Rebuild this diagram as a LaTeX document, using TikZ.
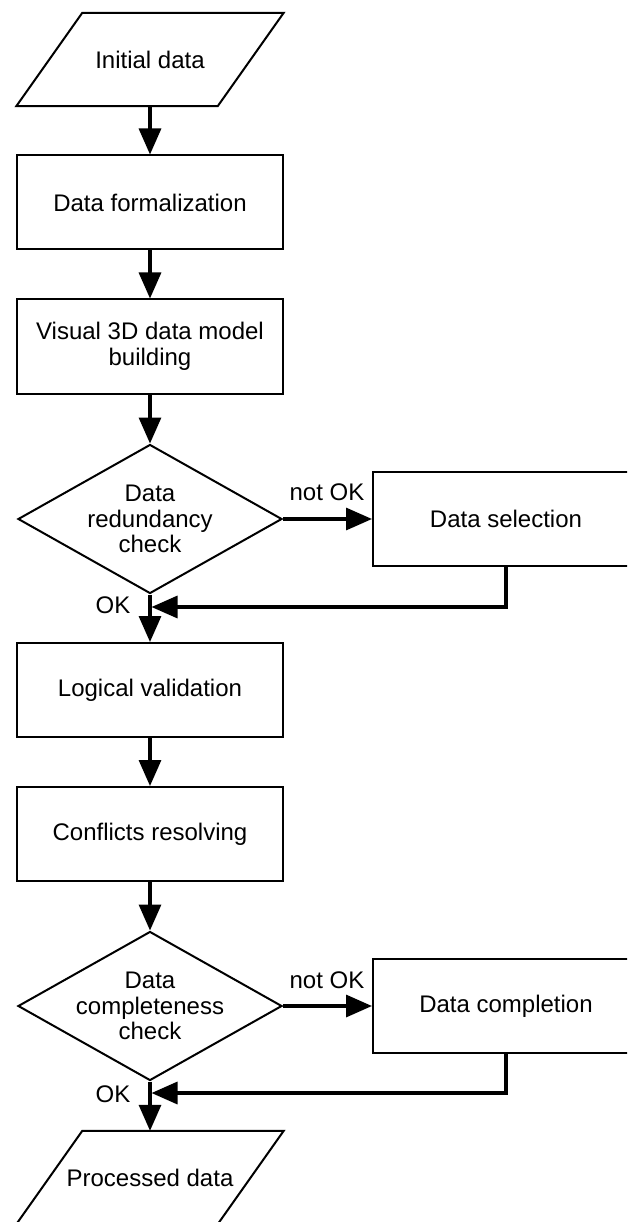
\documentclass[tikz,border=0pt]{standalone}
\usepackage{fontspec}
\setmainfont{Liberation Sans}
\usetikzlibrary{shapes.geometric,arrows.meta}
\newcommand{\chartfont}{\fontsize{24}{25.5}\selectfont}

\begin{document}
\begin{tikzpicture}[x=1pt, y=-1pt,
		box/.style={draw, line width=2pt, rectangle, minimum width=266pt, minimum height=94pt, inner sep=0pt, align=center, font=\chartfont},
		decision/.style={draw, line width=2pt, diamond, aspect=1.77, minimum width=264pt, minimum height=149pt, inner sep=-5pt, align=center, font=\chartfont},
		io/.style={rectangle, minimum width=201pt, minimum height=93pt, inner sep=0pt, font=\chartfont},
		slanted/.style={line width=2pt, line join=miter},
		flow/.style={line width=3.3pt, -{Triangle[length=26pt, width=22pt]}},
		lbl/.style={inner sep=0pt, font=\chartfont}]
		\useasboundingbox (0,0) rectangle (627,1222);
		\clip (0,0) rectangle (627,1222);

		\node[io] (init) at (150, 59.5) {Initial data};
		\node[box] (form) at (150, 202.5) {Data formalization};
		\node[box] (vis) at (150, 346.5) {Visual 3D data model\\building};
		\node[decision] (red) at (150, 519) {Data\\redundancy\\check};
		\node[box] (sel) at (506, 519) {Data selection};
		\node[box] (logic) at (150, 690) {Logical validation};
		\node[box] (confl) at (150, 834) {Conflicts resolving};
		\node[decision] (compl) at (150, 1006) {Data\\completeness\\check};
		\node[box] (fill) at (506, 1006) {Data completion};
		\node[io] (proc) at (150, 1177.5) {Processed data};

		\draw[slanted] ([xshift=33pt]init.north west) -- ([xshift=33pt]init.north east)
			-- ([xshift=-33pt]init.south east) -- ([xshift=-33pt]init.south west) -- cycle;
		\draw[slanted] ([xshift=33pt]proc.north west) -- ([xshift=33pt]proc.north east)
			-- ([xshift=-33pt]proc.south east) -- ([xshift=-33pt]proc.south west) -- cycle;

		\node[lbl] (nok1) at (327, 492) {not OK};
		\node[lbl] (ok1) at (113, 605) {OK};
		\node[lbl] (nok2) at (327, 980) {not OK};
		\node[lbl] (ok2) at (113, 1094) {OK};

		\coordinate (back1) at (150, 607);
		\coordinate (back2) at (150, 1093);

		\draw[flow] (init.south) -- (form.north);
		\draw[flow] (form.south) -- (vis.north);
		\draw[flow] (vis.south) -- (red.north);
		\draw[flow] (red.east) -- (sel.west);
		\draw[flow, shorten >=1.5pt] (sel.south) |- (back1);
		\draw[flow] (red.south) -- (logic.north);
		\draw[flow] (logic.south) -- (confl.north);
		\draw[flow] (confl.south) -- (compl.north);
		\draw[flow] (compl.east) -- (fill.west);
		\draw[flow, shorten >=1.5pt] (fill.south) |- (back2);
		\draw[flow] (compl.south) -- (proc.north);
\end{tikzpicture}
\end{document}
